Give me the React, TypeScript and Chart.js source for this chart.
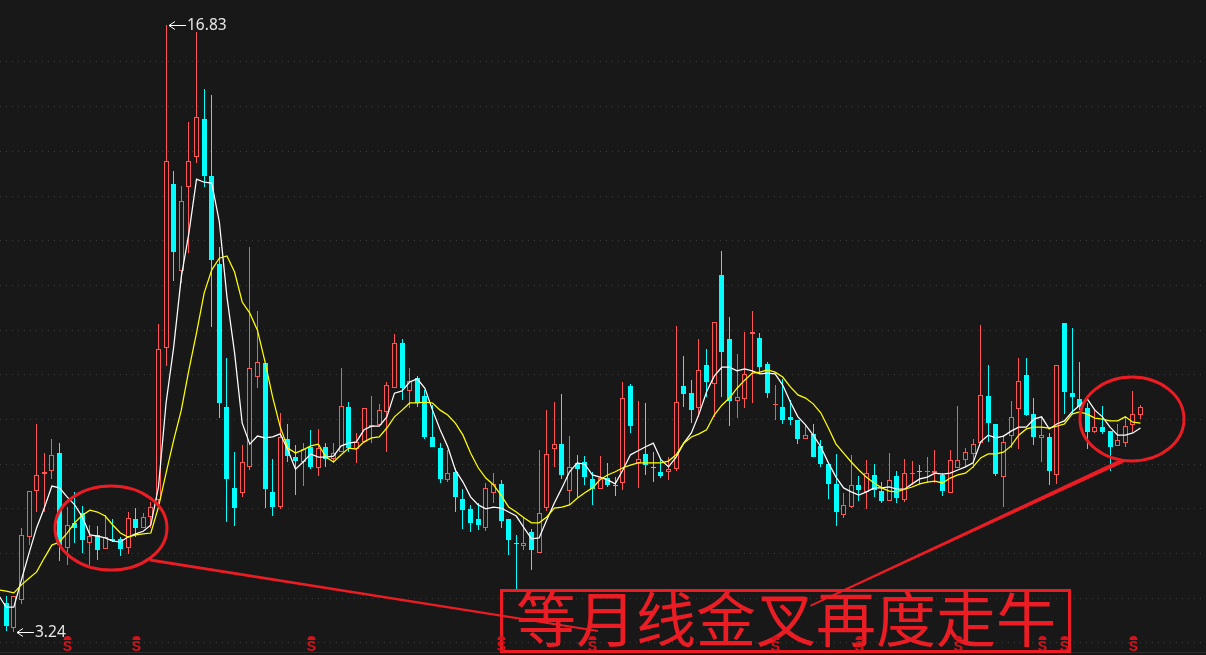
import React, { useEffect, useRef } from "react";
import { Chart, registerables } from "chart.js";

Chart.register(...registerables);

const opens = [3.89,3.33,3.96,5.37,6.40,6.78,6.85,7.25,5.13,5.69,5.91,5.24,5.42,5.10,5.33,5.33,5.13,5.77,5.57,5.82,
6.20,9.60,13.27,11.32,13.20,13.87,14.72,13.45,11.48,8.28,6.47,6.36,6.94,8.95,9.26,6.38,6.04,7.56,7.16,7.05,
7.39,6.92,7.39,7.12,7.27,8.28,7.34,7.50,7.83,7.88,8.17,8.70,9.71,8.64,8.93,8.53,7.61,7.36,6.65,6.83,
6.22,6.00,5.77,5.58,6.36,6.56,5.77,5.24,5.17,5.48,5.01,6.02,7.34,7.45,6.40,7.03,7.05,6.67,6.44,6.69,
6.54,6.58,8.75,7.03,7.23,6.94,6.83,6.83,6.89,8.75,8.59,8.26,9.22,8.79,11.23,9.80,8.41,8.46,9.91,9.82,
9.24,8.32,8.28,8.06,7.99,7.56,7.68,7.41,7.00,6.56,5.86,6.04,6.54,6.38,6.76,6.40,6.18,6.74,6.20,6.78,
6.85,6.83,6.80,6.76,6.36,6.92,7.10,7.23,7.47,8.53,7.90,6.71,7.63,8.24,8.99,8.12,7.59,7.61,6.76,10.16,
8.59,8.46,8.26,7.72,7.83,7.74,7.41,7.47,7.88,8.10];
const closes = [3.38,4.05,5.42,6.40,6.76,6.83,7.21,5.19,5.64,5.57,5.30,5.39,5.08,5.37,5.28,5.10,5.80,5.57,5.82,6.04,
9.58,13.79,11.75,12.89,13.79,14.77,13.45,11.57,8.37,6.67,6.02,7.05,9.15,9.29,6.44,6.04,7.61,7.18,7.07,7.34,
6.94,7.36,7.12,7.25,8.30,7.36,7.50,8.26,7.88,8.21,8.77,9.71,8.70,8.86,8.37,7.61,7.39,6.67,6.80,6.27,
5.97,5.69,5.64,6.47,6.56,5.73,5.30,5.21,5.24,5.08,5.91,7.23,7.45,6.76,6.94,6.89,6.71,6.44,6.69,6.54,
6.51,8.48,7.85,7.12,6.98,6.92,6.74,6.89,8.39,8.57,8.21,9.11,8.84,10.18,9.51,8.41,8.50,9.02,9.96,9.17,
8.59,8.35,7.99,7.99,7.56,7.65,7.16,7.00,6.56,5.93,6.09,6.54,6.42,6.80,6.42,6.18,6.65,6.24,6.80,6.80,
6.83,6.85,6.85,6.40,7.10,7.10,7.27,7.45,8.55,7.92,6.78,7.50,8.06,8.86,8.10,7.61,7.65,6.85,9.22,8.62,
8.50,8.28,7.72,7.83,7.72,7.39,7.54,7.85,8.12,8.28];
const highs = [4.05,4.05,5.57,6.40,7.90,7.25,7.56,7.47,6.04,6.38,6.06,5.64,5.62,5.86,5.77,5.37,5.93,6.02,5.91,6.15,
10.14,16.83,13.56,13.23,14.66,16.67,15.40,15.26,11.86,9.38,7.27,7.43,11.86,10.43,9.26,7.12,8.15,7.90,7.43,7.47,
7.77,7.79,7.47,7.47,9.15,8.39,7.70,8.26,8.53,8.35,8.84,9.91,9.80,9.15,8.97,8.66,8.32,7.47,7.32,6.92,
6.44,6.09,6.13,6.58,6.80,6.65,5.77,5.42,5.82,5.55,7.32,8.21,8.39,8.57,7.63,7.21,7.18,6.83,7.18,7.03,
6.71,8.84,8.79,8.41,8.37,7.27,7.12,7.16,10.09,9.42,8.88,9.80,9.58,10.18,11.77,10.29,9.47,9.96,10.43,9.94,
9.29,8.77,8.91,8.44,7.99,7.88,7.90,7.54,7.00,7.23,6.36,7.21,6.74,7.10,7.00,6.60,7.25,6.85,7.12,7.07,
6.98,7.16,7.32,6.80,7.32,8.30,7.36,7.56,10.11,9.22,7.90,7.65,8.41,9.38,9.38,8.48,8.06,7.70,9.22,10.16,
10.05,9.29,8.37,8.21,8.30,7.74,7.90,8.06,8.64,8.32];
const lows = [3.27,3.24,3.87,5.19,5.93,5.93,6.67,4.83,4.74,5.24,5.01,4.74,4.86,5.10,5.26,4.95,4.99,5.37,5.57,5.58,
6.04,9.20,11.10,11.05,11.73,13.74,13.20,10.07,8.03,5.71,5.62,6.27,6.87,8.70,6.02,5.84,6.00,7.05,6.31,6.51,
6.89,6.74,6.94,7.03,7.27,7.27,7.03,7.47,7.47,7.88,7.27,8.70,8.44,8.26,8.28,7.56,7.39,6.58,6.60,5.93,
5.55,5.48,5.53,5.50,6.13,5.58,4.97,4.21,5.08,4.63,5.01,5.95,6.94,6.67,6.09,6.27,6.54,6.09,6.44,6.49,
6.29,6.42,7.70,6.47,6.76,6.60,6.69,6.65,6.85,8.28,7.92,8.06,8.50,8.06,8.50,7.85,8.03,8.26,8.37,9.02,
8.48,7.99,7.90,7.88,7.45,7.56,7.16,6.94,6.22,5.62,5.80,6.02,6.18,6.00,6.27,6.13,6.18,6.13,6.15,6.54,
6.56,6.58,6.58,6.29,6.36,6.92,6.94,6.92,7.47,7.50,6.74,6.04,7.36,7.34,8.08,7.43,7.05,6.54,6.56,8.12,
8.12,8.21,7.34,7.70,7.68,6.85,7.41,7.39,7.72,8.01];
// moving averages start one session before the first visible candle
const maFast = [4.07,3.80,3.80,4.41,5.01,5.58,6.02,6.51,6.47,6.27,6.09,5.82,5.42,5.39,5.35,5.28,5.26,5.37,5.44,5.50,5.64,
6.49,8.37,9.62,11.19,12.17,13.38,13.31,13.29,12.42,10.74,9.49,7.92,7.45,7.63,7.59,7.61,7.68,7.32,6.89,7.05,
7.23,7.16,7.16,7.18,7.41,7.47,7.50,7.77,7.85,7.85,8.06,8.59,8.64,8.84,8.91,8.70,8.21,7.77,7.39,6.87,
6.60,6.27,6.09,6.00,6.04,6.02,5.93,5.84,5.58,5.33,5.35,5.75,6.13,6.47,6.83,7.03,7.00,6.76,6.71,6.65,
6.56,6.87,7.21,7.30,7.39,7.47,7.10,6.94,7.16,7.47,7.70,8.12,8.62,8.97,9.17,9.17,9.09,9.13,9.09,9.02,
9.04,9.02,8.77,8.39,8.06,7.88,7.65,7.39,7.03,6.71,6.47,6.38,6.31,6.38,6.47,6.47,6.49,6.44,6.44,6.56,
6.67,6.71,6.80,6.78,6.80,6.87,6.94,7.03,7.50,7.65,7.59,7.63,7.74,7.83,7.83,8.01,8.06,7.79,7.90,7.97,
8.17,8.32,8.46,8.21,8.06,7.83,7.65,7.65,7.70,7.81];
const maSlow = [4.19,4.16,4.12,4.30,4.45,4.59,4.90,5.19,5.26,5.46,5.69,5.86,5.97,5.93,5.84,5.64,5.46,5.37,5.42,5.44,5.46,
6.04,6.80,7.54,8.21,9.11,9.94,10.83,11.35,11.61,11.66,11.30,10.63,10.38,10.00,9.29,8.50,7.83,7.36,7.25,7.32,
7.41,7.45,7.16,7.05,7.21,7.36,7.34,7.50,7.59,7.61,7.81,8.06,8.21,8.37,8.37,8.39,8.37,8.21,8.10,7.92,
7.65,7.25,6.92,6.69,6.54,6.31,6.04,5.93,5.80,5.69,5.69,5.82,6.02,6.04,6.09,6.24,6.36,6.47,6.65,6.76,
6.83,6.92,6.98,7.03,7.03,7.03,7.03,7.07,7.21,7.47,7.61,7.68,7.77,8.10,8.32,8.48,8.70,8.88,9.04,9.06,
9.11,9.06,8.95,8.73,8.55,8.48,8.35,8.15,7.81,7.45,7.25,7.05,6.87,6.71,6.58,6.47,6.40,6.38,6.44,6.49,
6.56,6.60,6.62,6.58,6.69,6.76,6.80,6.94,7.14,7.23,7.23,7.27,7.41,7.65,7.79,7.83,7.83,7.81,7.85,7.90,
8.12,8.17,8.12,8.03,8.01,7.97,7.97,8.06,7.94,7.92];
const signalSessions = [8,17,40,65,77,101,112,125,136,139,148];
const priceTicks = [3,4,5,6,7,8,9,10,11,12,13,14,15,16];
const caption = "等月线金叉再度走牛";

const BG = "#181818";
const UP = "#ff5555";
const DOWN = "#00ffff";
const MARK = "#ec1c24";

const isUp = (i: number) => closes[i] >= opens[i];

const snapBars = {
  id: "snapBars",
  afterDatasetsUpdate(chart: any) {
    chart.getSortedVisibleDatasetMetas().forEach((meta: any) => {
      if (meta.type !== "bar") return;
      meta.data.forEach((el: any) => {
        const top = Math.round(Math.min(el.y, el.base));
        let bottom = Math.round(Math.max(el.y, el.base));
        if (bottom <= top) bottom = top + 1;
        el.x = Math.floor(el.x) + 0.5;
        el.y = top;
        el.base = bottom;
        el.height = bottom - top;
      });
    });
  },
};

const overlay = {
  id: "overlay",
  afterDatasetsDraw(chart: any) {
    const { ctx, scales } = chart;
    const xs = scales.x;
    const ys = scales.y;
    ctx.save();

    // extreme-price callouts
    const hi = Math.max(...highs);
    const lo = Math.min(...lows);
    const callout = (idx: number, price: number, label: string) => {
      const px = Math.round(xs.getPixelForValue(idx)) + 3;
      const py = Math.round(ys.getPixelForValue(price)) + 0.5;
      ctx.strokeStyle = "#ffffff";
      ctx.lineWidth = 1;
      ctx.beginPath();
      ctx.moveTo(px, py);
      ctx.lineTo(px + 17, py);
      ctx.moveTo(px + 6, py - 4);
      ctx.lineTo(px, py);
      ctx.lineTo(px + 6, py + 4);
      ctx.stroke();
      ctx.fillStyle = "#e6e6e6";
      ctx.font = '15.5px "Noto Sans"';
      ctx.textAlign = "left";
      ctx.textBaseline = "middle";
      ctx.fillText(label, px + 18, py);
    };
    callout(highs.indexOf(hi), hi, hi.toFixed(2));
    callout(lows.indexOf(lo), lo, lo.toFixed(2));

    // hand-drawn red notes
    ctx.strokeStyle = MARK;
    ctx.fillStyle = MARK;
    ctx.lineWidth = 3;
    ctx.beginPath();
    ctx.ellipse(111, 528, 56, 42, 0, 0, Math.PI * 2);
    ctx.stroke();
    ctx.beginPath();
    ctx.ellipse(1132, 419, 52, 42, 0, 0, Math.PI * 2);
    ctx.stroke();
    ctx.beginPath();
    ctx.moveTo(150, 558.5);
    ctx.lineTo(150, 561.5);
    ctx.lineTo(598, 632);
    ctx.lineTo(598, 630);
    ctx.closePath();
    ctx.fill();
    ctx.beginPath();
    ctx.moveTo(1122, 458.5);
    ctx.lineTo(1124, 462.5);
    ctx.lineTo(811, 606.5);
    ctx.lineTo(810, 605);
    ctx.closePath();
    ctx.fill();
    ctx.lineWidth = 3;
    ctx.strokeRect(501.5, 590.5, 568, 61);
    ctx.font = '60px "Noto Sans CJK SC"';
    ctx.textAlign = "center";
    ctx.textBaseline = "middle";
    ctx.fillText(caption, 786, 619);

    // signal markers
    ctx.fillStyle = "#d8121a";
    signalSessions.forEach((idx) => {
      const px = Math.round(xs.getPixelForValue(idx)) + 0.5;
      ctx.beginPath();
      ctx.arc(px, 640, 4, Math.PI, 0);
      ctx.fill();
      ctx.font = 'bold 14px "Liberation Sans"';
      ctx.textAlign = "center";
      ctx.textBaseline = "alphabetic";
      ctx.fillText("S", px, 651);
    });
    ctx.restore();
  },
};

export default function App() {
  const ref = useRef<HTMLCanvasElement | null>(null);
  useEffect(() => {
    const sessions = opens.map((_, i) => i);
    const chart = new Chart(ref.current as HTMLCanvasElement, {
      type: "bar",
      plugins: [snapBars, overlay],
      data: {
        datasets: [
          {
            type: "line",
            label: "fast",
            data: maFast.map((y, i) => ({ x: i - 1, y })),
            borderColor: "#ffffff",
            borderWidth: 1.25,
            pointRadius: 0,
            tension: 0,
            order: 2,
          },
          {
            type: "line",
            label: "slow",
            data: maSlow.map((y, i) => ({ x: i - 1, y })),
            borderColor: "#ffff00",
            borderWidth: 1.25,
            pointRadius: 0,
            tension: 0,
            order: 1,
          },
          {
            type: "bar",
            label: "body",
            data: sessions.map((i) => ({ x: i, y: [opens[i], closes[i]] })),
            backgroundColor: sessions.map((i) => (isUp(i) ? BG : DOWN)),
            borderColor: sessions.map((i) => (isUp(i) ? UP : DOWN)),
            borderWidth: 1,
            borderSkipped: false,
            barThickness: 5,
            inflateAmount: 0,
            grouped: false,
            order: 3,
          },
          {
            type: "bar",
            label: "wick",
            data: sessions.map((i) => ({ x: i, y: [lows[i], highs[i]] })),
            backgroundColor: sessions.map((i) => (isUp(i) ? UP : DOWN)),
            borderWidth: 0,
            barThickness: 1,
            inflateAmount: 0,
            grouped: false,
            order: 4,
          },
        ],
      } as any,
      options: {
        responsive: false,
        animation: false,
        devicePixelRatio: 1,
        layout: { padding: { left: 0, right: 0, top: 0, bottom: 3 } },
        plugins: { legend: { display: false }, tooltip: { enabled: false }, title: { display: false } },
        scales: {
          x: {
            type: "linear",
            offset: false,
            min: -0.814,
            max: 157.6,
            ticks: { display: false },
            grid: { display: false, drawTicks: false },
            border: { display: true, color: "#2c2c2c" },
          },
          y: {
            type: "linear",
            min: 2.798,
            max: 17.387,
            afterBuildTicks: (axis: any) => {
              axis.ticks = priceTicks.map((value) => ({ value }));
            },
            ticks: { display: false },
            grid: { color: "#3c3c3c", drawTicks: false },
            border: { display: false, dash: [1, 5] },
          },
        },
      } as any,
    });
    return () => chart.destroy();
  }, []);
  return (
    <div style={{ position: "fixed", left: 0, top: 0, width: 1206, height: 655, background: BG, overflow: "hidden" }}>
      <canvas ref={ref} width={1206} height={655} style={{ display: "block", background: BG }} />
    </div>
  );
}
